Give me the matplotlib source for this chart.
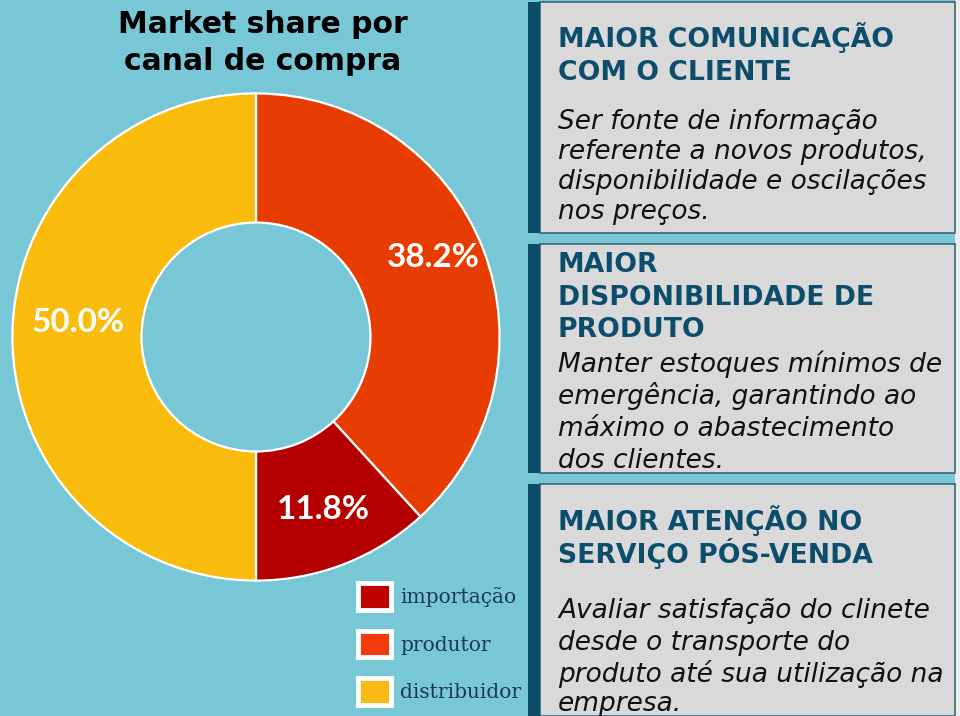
import matplotlib.pyplot as plt
from matplotlib.patches import Rectangle, Patch

# data
canais = ['produtor', 'importação', 'distribuidor']
share = [38.2, 11.8, 50.0]
cores = ['#E83D02', '#B40000', '#F9BB0C']
legenda = ['importação', 'produtor', 'distribuidor']
cores_legenda = ['#C00000', '#F23A0C', '#FBB914']

titulo = ['Market share por', 'canal de compra']
blocos = [
    (['MAIOR COMUNICAÇÃO', 'COM O CLIENTE'], [47, 80],
     ['Ser fonte de informação', 'referente a novos produtos,',
      'disponibilidade e oscilações', 'nos preços.'], [129, 159, 189, 219]),
    (['MAIOR', 'DISPONIBILIDADE DE', 'PRODUTO'], [272, 305, 337],
     ['Manter estoques mínimos de', 'emergência, garantindo ao',
      'máximo o abastecimento', 'dos clientes.'], [372, 404, 436, 468]),
    (['MAIOR ATENÇÃO NO', 'SERVIÇO PÓS-VENDA'], [530, 563],
     ['Avaliar satisfação do clinete', 'desde o transporte do',
      'produto até sua utilização na', 'empresa.'], [618, 650, 682, 711]),
]
caixas = [(2, 233), (244, 473), (484, 716)]

W, H = 960, 716
bg = '#78C7D7'
navy = '#0B4C69'

fig = plt.figure(figsize=(W / 100, H / 100), dpi=100, facecolor=bg)


def fx(x):
    return x / W


def fy(y):
    return 1 - y / H


# right panel boxes
fig.add_artist(Rectangle((fx(955), 0), fx(5), 1, transform=fig.transFigure,
                         facecolor='#ECECEC', edgecolor='none'))
for top, bot in caixas:
    fig.add_artist(Rectangle((fx(540), fy(bot)), fx(415), (bot - top) / H,
                             transform=fig.transFigure, facecolor='#D9D9D9',
                             edgecolor='#3A6677', linewidth=1.2))
    fig.add_artist(Rectangle((fx(528), fy(bot)), fx(12), (bot - top) / H,
                             transform=fig.transFigure, facecolor=navy,
                             edgecolor='none'))

for cab, ycab, corpo, ycorpo in blocos:
    for t, y in zip(cab, ycab):
        fig.text(fx(558), fy(y), t, fontsize=19.2, fontweight='bold',
                 color='#0D4D6C', va='baseline', ha='left',
                 family='DejaVu Sans')
    for t, y in zip(corpo, ycorpo):
        fig.text(fx(558), fy(y), t, fontsize=19, style='italic',
                 color='#111111', va='baseline', ha='left',
                 family='DejaVu Sans')

# title
for t, y in zip(titulo, [33, 70]):
    fig.text(fx(263), fy(y), t, fontsize=21.5, fontweight='bold',
             color='black', ha='center', va='baseline', family='DejaVu Sans')

# donut
cx, cy, r = 256, 337, 246
ax = fig.add_axes([fx(cx - r), fy(cy + r), 2 * r / W, 2 * r / H])
ax.set_facecolor('none')
wedges, _, pcts = ax.pie(share, colors=cores, startangle=90, counterclock=False,
                         radius=1, autopct='%1.1f%%', pctdistance=0.76,
                         wedgeprops=dict(width=0.53, edgecolor='white',
                                         linewidth=1.6))
# small nudges to match the original label placement
nudges = [(0.02, 0.05), (0.0, 0.0), (0.03, 0.06)]
for p, (dx, dy) in zip(pcts, nudges):
    x, y = p.get_position()
    p.set_position((x + dx, y + dy))
    p.set_color('white')
    p.set_fontsize(24)
    p.set_fontweight('bold')
    p.set_family('Lato')
ax.set_xlim(-1.01, 1.01)
ax.set_ylim(-1.01, 1.01)
ax.set_aspect('equal')
ax.axis('off')

# legend
handles = [Patch(facecolor=c, edgecolor='white', linewidth=3.5) for c in cores_legenda]
fig.legend(handles, legenda, loc='upper left',
           bbox_to_anchor=(fx(340), fy(565)), frameon=False,
           prop={'family': 'DejaVu Serif', 'size': 14.5},
           labelcolor='#1C3A4C', handlelength=1.65, handleheight=1.65,
           labelspacing=1.05, handletextpad=0.45)

fig.savefig('out.png', dpi=100, facecolor=bg)
